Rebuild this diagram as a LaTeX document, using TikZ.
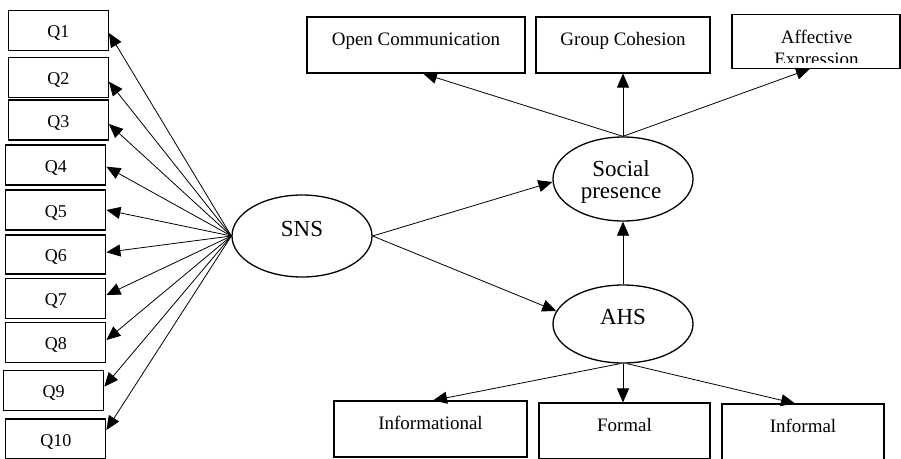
\documentclass[tikz,border=0pt]{standalone}
\usepackage{fontspec}
\setmainfont{Liberation Serif}
\usetikzlibrary{arrows.meta,shapes.geometric}
\begin{document}
\begin{tikzpicture}[x=1pt,y=-1pt,
  qbox/.style={draw, line width=1.2pt, minimum width=100pt, minimum height=40pt, inner sep=0pt,
    font=\fontsize{18}{20}\selectfont, text height=14pt, text depth=0pt},
  bigbox/.style={draw, line width=1.1pt, inner sep=0pt, font=\fontsize{19}{21}\selectfont,
    text height=6pt, text depth=6pt},
  lat/.style={draw, ellipse, line width=1.3pt, minimum width=140pt, inner sep=0pt,
    font=\fontsize{23}{25}\selectfont, text height=6pt, text depth=6pt},
  elbl/.style={anchor=base, inner sep=0pt, font=\fontsize{23}{25}\selectfont},
  blbl/.style={anchor=base, inner sep=0pt, font=\fontsize{19}{21}\selectfont},
  arr/.style={line width=0.8pt, -{Triangle[length=14pt,width=12pt]}}
]
\clip (0,0) rectangle (901,458);
\fill[white] (0,0) rectangle (901,458);

% indicator boxes
\node[qbox] (q1) at (58.3,30.7) {Q1};
\node[qbox] (q2) at (58.3,77.3) {Q2};
\node[qbox] (q3) at (58.3,120) {Q3};
\node[qbox] (q4) at (55.8,165) {Q4};
\node[qbox] (q5) at (55.8,210) {Q5};
\node[qbox, minimum height=39pt] (q6) at (55.8,254.5) {Q6};
\node[qbox] (q7) at (55.8,298.3) {Q7};
\node[qbox] (q8) at (55.8,342.7) {Q8};
\node[qbox] (q9) at (53.7,390.7) {Q9};
\node[qbox] (q10) at (55.8,439) {Q10};

% latent variables
\node[lat, minimum height=82pt] (sns) at (302,236) {SNS};
\node[lat, minimum height=84pt] (sp) at (623,179) {};
\node[elbl] (sp1) at (621,176) {Social};
\node[elbl] (sp2) at (621,198) {presence};
\node[lat, minimum height=78pt] (ahs) at (623,324) {AHS};

% top boxes
\node[bigbox, minimum width=218pt, minimum height=56pt] (oc) at (416,45) {Open Communication};
\node[bigbox, minimum width=174pt, minimum height=56pt] (gc) at (623,45) {Group Cohesion};
\begin{scope}
  \clip (732,14) rectangle (900,62.5);
  \node[blbl] (ae1) at (816.5,43.3) {Affective};
  \node[blbl] (ae2) at (816.5,65.5) {Expression};
\end{scope}
\node[bigbox, minimum width=168pt, minimum height=54pt] (ae) at (816,41.2) {};

% bottom boxes
\node[bigbox, minimum width=193pt, minimum height=56pt] (info) at (430.5,429) {Informational};
\node[bigbox, minimum width=171pt, minimum height=56pt] (fo) at (624.5,431) {Formal};
\node[bigbox, minimum width=162pt, minimum height=56pt] (inl) at (803,432) {Informal};

% SNS -> indicators
\draw[arr] (sns.west) -- ([yshift=-2.3pt]q1.east);
\draw[arr] (sns.west) -- ([yshift=-4.4pt]q2.east);
\draw[arr] (sns.west) -- ([yshift=-4pt]q3.east);
\draw[arr] (sns.west) -- ([yshift=-1.7pt]q4.east);
\draw[arr] (sns.west) -- (q5.east);
\draw[arr] (sns.west) -- ([yshift=2.2pt]q6.east);
\draw[arr] (sns.west) -- ([yshift=3.3pt]q7.east);
\draw[arr] (sns.west) -- ([yshift=2.7pt]q8.east);
\draw[arr] (sns.west) -- ([yshift=4pt]q9.east);
\draw[arr] (sns.west) -- ([yshift=9pt]q10.east);

% structural paths
\draw[arr] (sns.east) -- ([yshift=-3pt]sp.west);
\draw[arr] (sns.east) -- (ahs.169);
\draw[arr] (ahs.north) -- (sp.south);

% social presence indicators
\draw[arr] (sp.north) -- ([xshift=7pt]oc.south);
\draw[arr] (sp.north) -- (gc.south);
\draw[arr] (sp.north) -- ([xshift=-6pt]ae.south);

% AHS indicators
\draw[arr] ([xshift=-3pt]ahs.south) -- ([xshift=2.5pt]info.north);
\draw[arr] (ahs.south) -- ([xshift=-1.5pt]fo.north);
\draw[arr] ([xshift=4pt]ahs.south) -- ([xshift=-8pt]inl.north);
\end{tikzpicture}
\end{document}
